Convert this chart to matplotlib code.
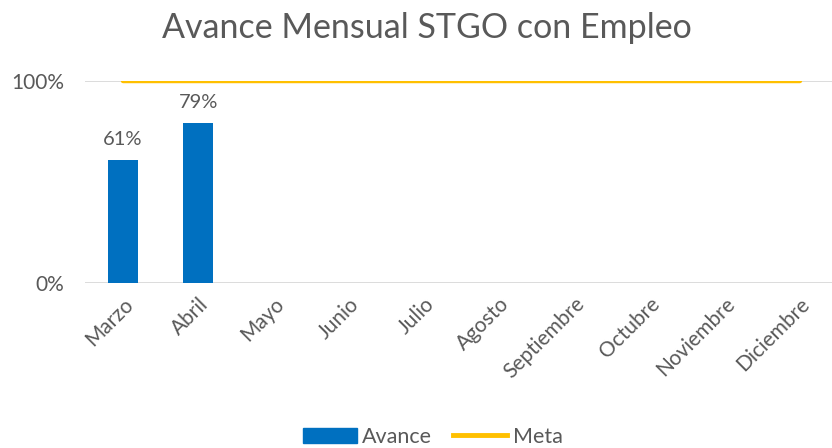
import matplotlib
matplotlib.use("Agg")
import matplotlib.pyplot as plt
from matplotlib.patches import Patch
from matplotlib.lines import Line2D
import numpy as np

meses = ["Marzo", "Abril", "Mayo", "Junio", "Julio", "Agosto",
         "Septiembre", "Octubre", "Noviembre", "Diciembre"]
avance = [0.61, 0.79]          # solo marzo y abril informados
meta = [1.0] * len(meses)
etiquetas_avance = ["61%", "79%"]

plt.rcParams.update({"font.family": ["Lato", "DejaVu Sans"]})
GRIS = "#595959"

fig = plt.figure(figsize=(8.32, 4.48), dpi=100)
ax = fig.add_axes([85.4 / 832, (448 - 283) / 448, 752 / 832, 202 / 448])

x = np.arange(len(meses))
ax.bar(x[:len(avance)], avance, width=0.4, color="#0070C0", zorder=3)
for xi, v, t in zip(x, avance, etiquetas_avance):
    ax.text(xi, v + 0.06, t, ha="center", va="bottom", fontsize=14.5, color=GRIS)
ax.plot(x, meta, color="#FFC000", lw=3.2, solid_capstyle="round", zorder=4)

ax.set_xlim(-0.5, 9.5)
ax.set_ylim(0, 1)
ax.set_yticks([0, 1])
ax.set_yticklabels(["0%", "100%"], fontsize=15, color=GRIS)
ax.set_xticks(x)
ax.set_xticklabels(meses, rotation=45, ha="right", rotation_mode="anchor",
                   fontsize=15, color=GRIS)
ax.tick_params(axis="y", length=0, pad=15)
ax.tick_params(axis="x", length=0, pad=8)
ax.grid(axis="y", color="#D9D9D9", lw=1.3, zorder=0)
for s in ax.spines.values():
    s.set_visible(False)

fig.suptitle("Avance Mensual STGO con Empleo", fontsize=24.5, color=GRIS,
             x=0.513, y=1 - 28 / 448, va="center")

handles = [Patch(color="#0070C0"), Line2D([], [], color="#FFC000", lw=3.5)]
fig.legend(handles, ["Avance", "Meta"], loc="center", bbox_to_anchor=(0.52, 1 - 437 / 448),
           ncol=2, frameon=False, fontsize=15.5, labelcolor=GRIS, handlelength=2.5,
           handleheight=0.75, handletextpad=0.25, columnspacing=1.0)

fig.savefig("out.png", dpi=100)
